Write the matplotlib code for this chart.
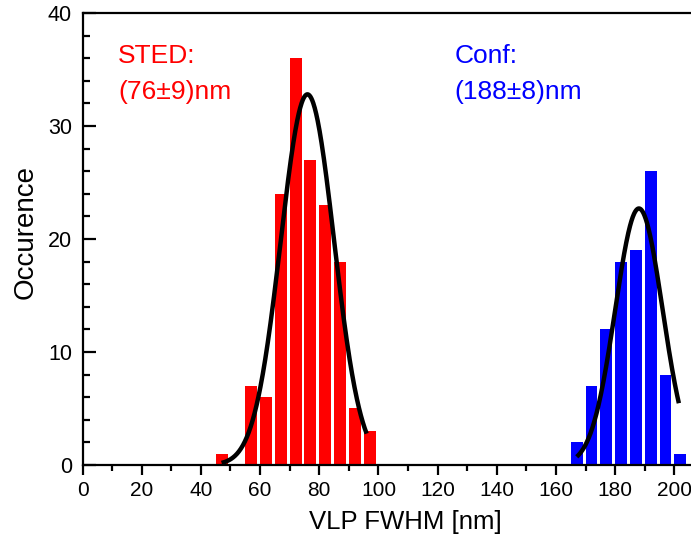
import numpy as np
import matplotlib.pyplot as plt
from matplotlib.ticker import MultipleLocator

plt.rcParams['font.family'] = ['Liberation Sans', 'DejaVu Sans']

# histogram bins (bin centres in nm) and counts
sted_centers = [47, 52, 57, 62, 67, 72, 77, 82, 87, 92, 97]
sted_counts = [1, 0, 7, 6, 24, 36, 27, 23, 18, 5, 3]
conf_centers = [167, 172, 177, 182, 187, 192, 197, 202]
conf_counts = [2, 7, 12, 18, 19, 26, 8, 1]

# gaussian fits: amplitude, mean, sigma, plotted range
sted_fit = dict(amp=32.8, mu=76, sigma=9, lo=47, hi=96)
conf_fit = dict(amp=22.7, mu=188, sigma=8, lo=167, hi=201.5)

fig = plt.figure(figsize=(6.91, 5.41), dpi=100)
ax = fig.add_axes([0.1194, 0.1405, 0.8806, 0.8355])

ax.bar(sted_centers, sted_counts, width=4, color='#ff0000', zorder=2)
ax.bar(conf_centers, conf_counts, width=4, color='#0000ff', zorder=2)

for f in (sted_fit, conf_fit):
    x = np.linspace(f['lo'], f['hi'], 300)
    y = f['amp'] * np.exp(-(x - f['mu'])**2 / (2 * f['sigma']**2))
    ax.plot(x, y, color='black', lw=3.2, zorder=3, solid_capstyle='butt')

ax.set_xlim(0, 205.6)
ax.set_ylim(0, 40)

ax.xaxis.set_major_locator(MultipleLocator(20))
ax.xaxis.set_minor_locator(MultipleLocator(10))
ax.yaxis.set_major_locator(MultipleLocator(10))
ax.yaxis.set_minor_locator(MultipleLocator(2))

for s in ('left', 'bottom', 'top'):
    ax.spines[s].set_linewidth(1.6)
ax.spines['right'].set_visible(False)

ax.tick_params(axis='x', which='major', direction='out', length=7, width=1.6,
               labelsize=15, pad=4.5, top=False)
ax.tick_params(axis='x', which='minor', direction='out', length=4.5, width=1.6, top=False)
ax.tick_params(axis='y', which='major', direction='in', length=9, width=1.6,
               labelsize=15.5, pad=7.5)
ax.tick_params(axis='y', which='minor', direction='in', length=5, width=1.6)

ax.set_xlabel('VLP FWHM [nm]', fontsize=18.5)
ax.set_ylabel('Occurence', fontsize=20)
ax.xaxis.set_label_coords(0.531, -0.0996)
ax.yaxis.set_label_coords(-0.0715, 0.5155)

ax.text(12, 35.6, 'STED:', color='#ff0000', fontsize=19)
ax.text(12, 32.4, '(76±9)nm', color='#ff0000', fontsize=19)
ax.text(125.8, 35.6, 'Conf:', color='#0000ff', fontsize=19)
ax.text(125.8, 32.4, '(188±8)nm', color='#0000ff', fontsize=19)

fig.savefig('out.png', dpi=100)
